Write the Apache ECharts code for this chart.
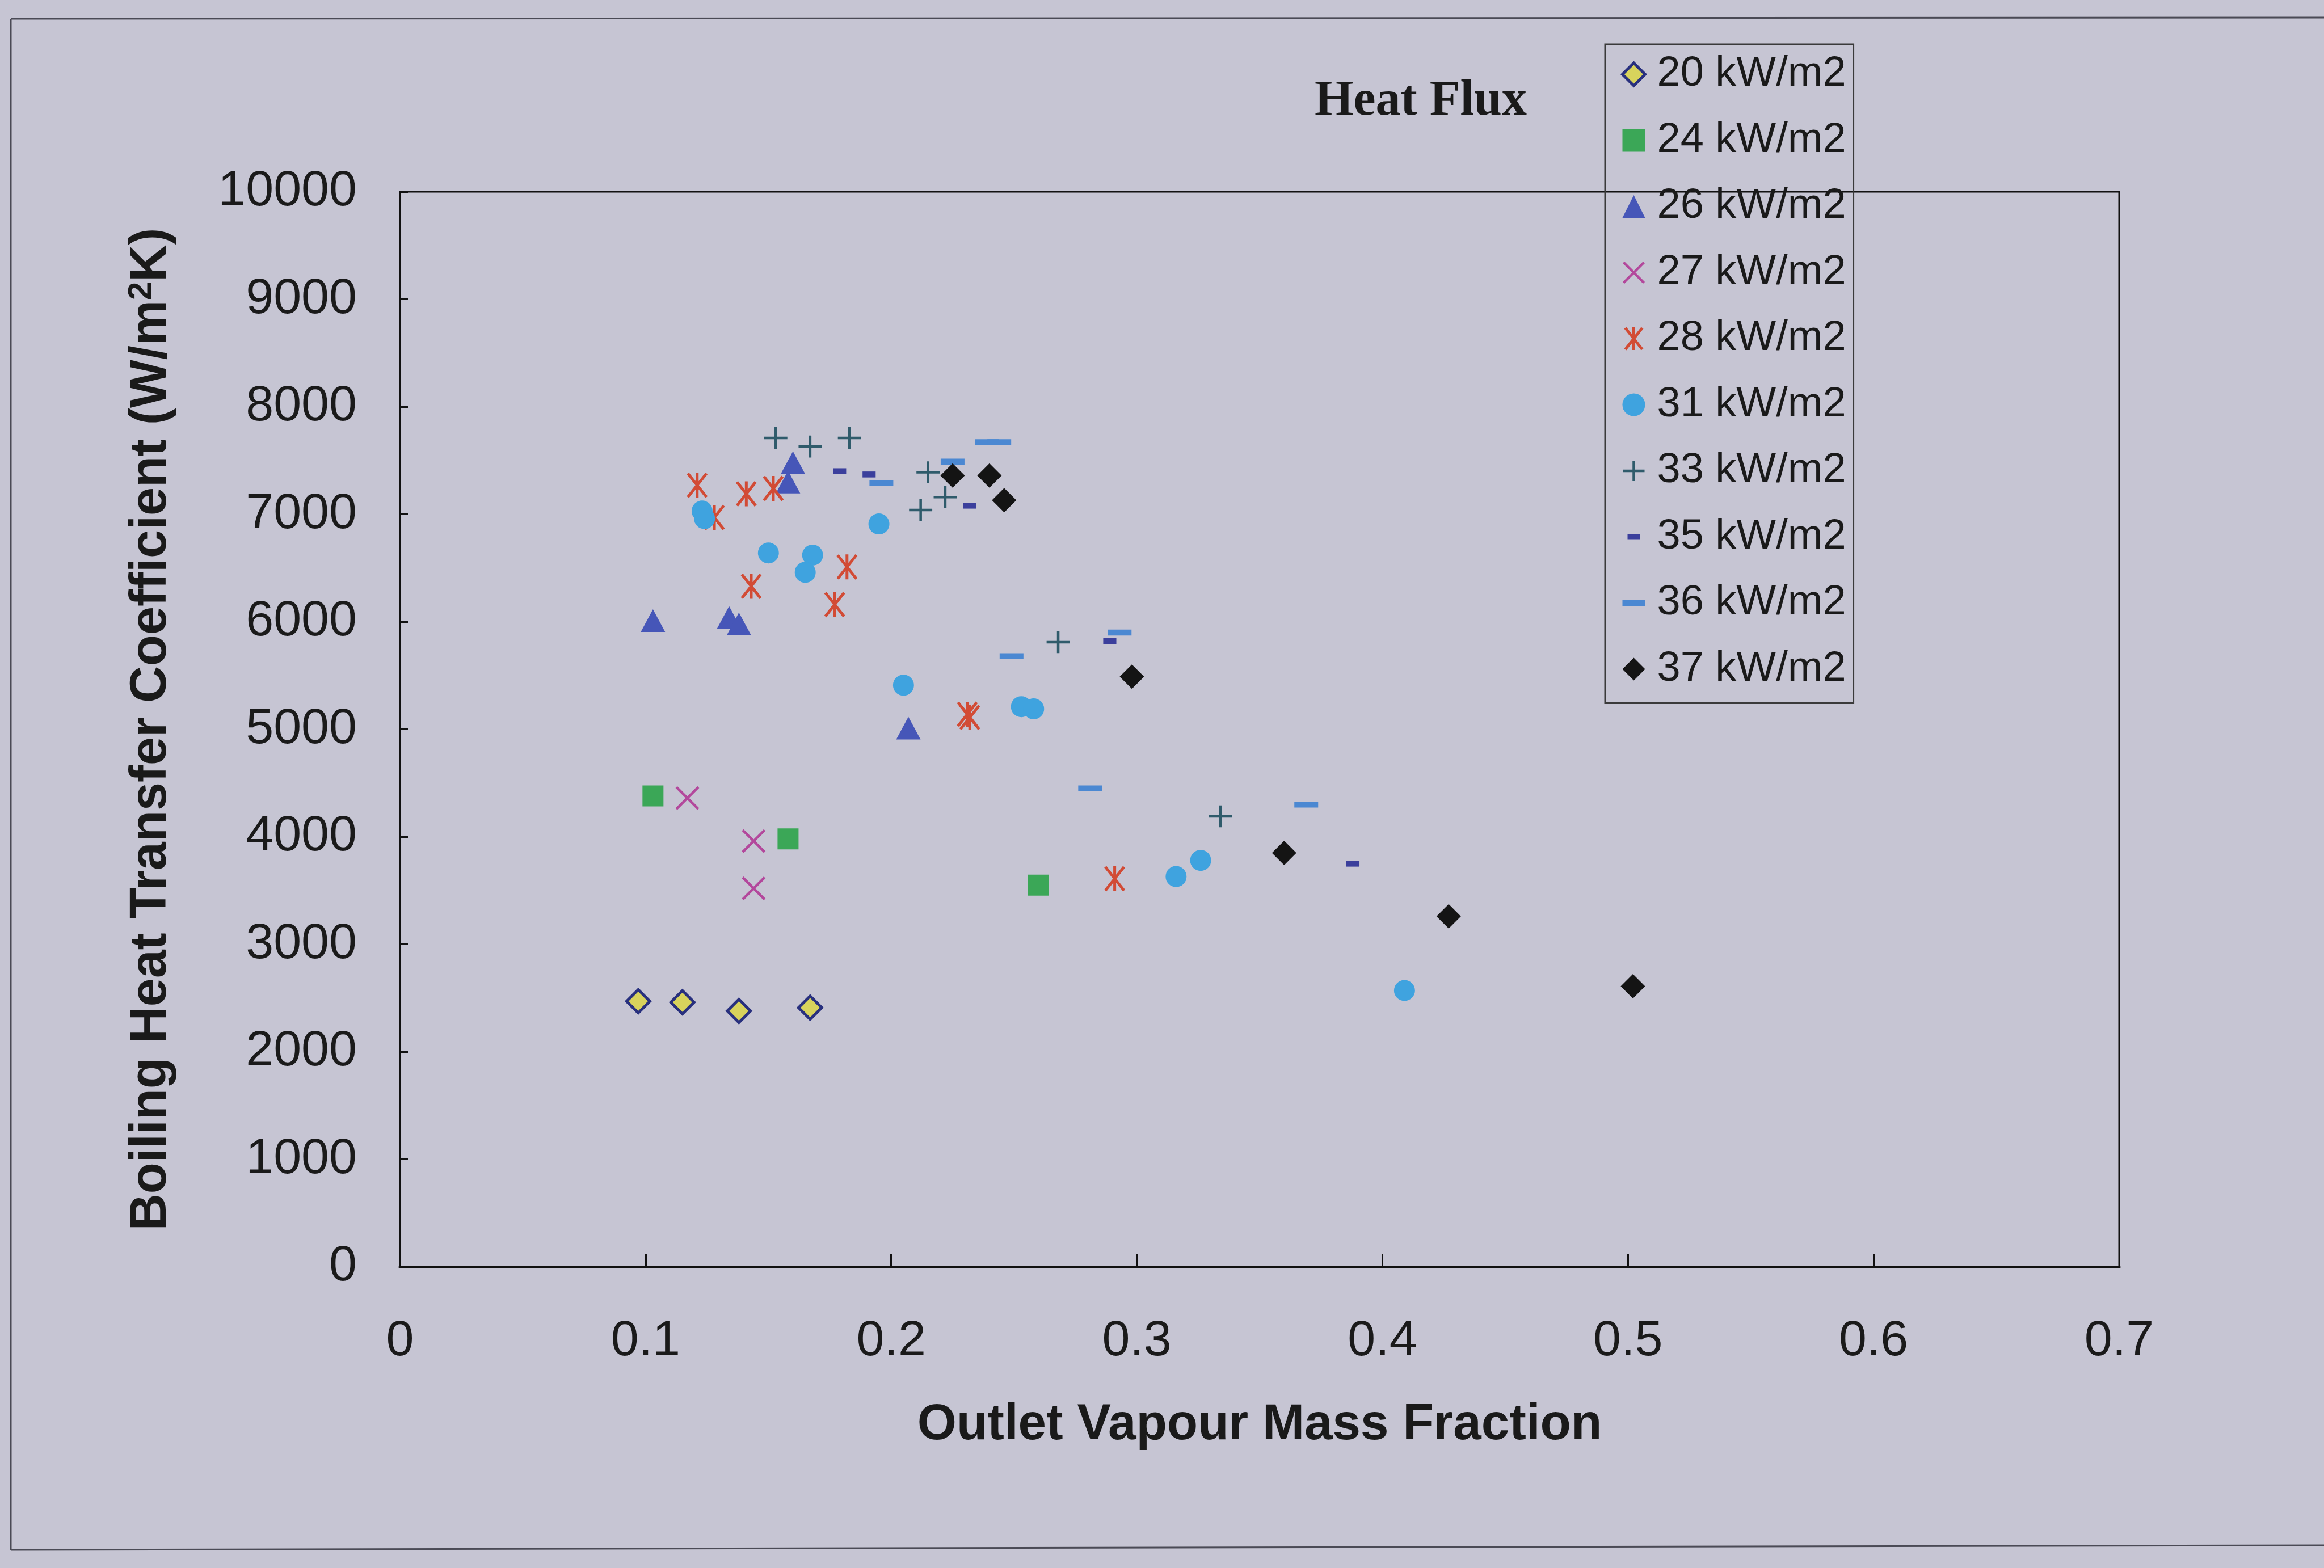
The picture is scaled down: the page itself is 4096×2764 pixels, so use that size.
<!DOCTYPE html>
<html>
<head>
<meta charset="utf-8">
<script src="https://cdn.jsdelivr.net/npm/echarts@6/dist/echarts.min.js"></script>
<style>
  html, body { margin: 0; padding: 0; background: #c6c5d3; }
  #chart { width: 4096px; height: 2764px; }
</style>
</head>
<body>
<div id="chart"></div>
<script>
// ---- Data ----
const seriesNames = ['20 kW/m2', '24 kW/m2', '26 kW/m2', '27 kW/m2', '28 kW/m2',
                     '31 kW/m2', '33 kW/m2', '35 kW/m2', '36 kW/m2', '37 kW/m2'];

const x20 = [0.097, 0.115, 0.138, 0.167];
const y20 = [2470, 2460, 2380, 2410];

const x24 = [0.103, 0.158, 0.260];
const y24 = [4380, 3980, 3550];

const x26 = [0.160, 0.158, 0.103, 0.134, 0.138, 0.207];
const y26 = [7480, 7300, 6010, 6040, 5980, 5010];

const x27 = [0.117, 0.144, 0.144];
const y27 = [4360, 3960, 3520];

const x28 = [0.121, 0.141, 0.152, 0.128, 0.182, 0.143, 0.177, 0.231, 0.232, 0.291];
const y28 = [7270, 7190, 7240, 6970, 6510, 6330, 6160, 5140, 5110, 3610];

const x31 = [0.123, 0.124, 0.195, 0.150, 0.168, 0.165, 0.205, 0.253, 0.258, 0.316, 0.326, 0.409];
const y31 = [7030, 6960, 6910, 6640, 6620, 6460, 5410, 5210, 5190, 3630, 3780, 2570];

const x33 = [0.153, 0.167, 0.183, 0.215, 0.222, 0.212, 0.268, 0.334];
const y33 = [7710, 7630, 7710, 7390, 7160, 7040, 5810, 4190];

const x35 = [0.179, 0.191, 0.232, 0.289, 0.388];
const y35 = [7400, 7370, 7080, 5820, 3750];

const x36 = [0.239, 0.244, 0.225, 0.196, 0.249, 0.293, 0.281, 0.369];
const y36 = [7670, 7670, 7490, 7290, 5680, 5900, 4450, 4300];

const x37 = [0.225, 0.240, 0.246, 0.298, 0.360, 0.427, 0.502];
const y37 = [7360, 7360, 7130, 5490, 3850, 3260, 2610];

const xTicks = [0, 0.1, 0.2, 0.3, 0.4, 0.5, 0.6, 0.7];
const yTicks = [0, 1000, 2000, 3000, 4000, 5000, 6000, 7000, 8000, 9000, 10000];

// ---- Presentation ----
const FONT = '"Liberation Sans", Arial, sans-serif';
const zip = (xs, ys) => xs.map((x, i) => [x, ys[i]]);
const box = d => 'path://M0,0M40,40' + d;   // symbols drawn in a 40x40 box

const styles = [
  { symbol: 'diamond', size: 41, item: { color: '#d8d35c', borderColor: '#28307e', borderWidth: 5 } },
  { symbol: 'rect', size: 37, item: { color: '#3ba757' } },
  { symbol: 'triangle', size: [43, 40], item: { color: '#4656b8' } },
  { symbol: box('M2,2L38,38M38,2L2,38'), size: 43, item: { color: 'transparent', borderColor: '#b3489c', borderWidth: 4.5 } },
  { symbol: box('M5,1L35,39M35,1L5,39M20,0L20,40'), size: 44, item: { color: 'transparent', borderColor: '#d24b35', borderWidth: 5 } },
  { symbol: 'circle', size: 37, item: { color: '#3fa3df' } },
  { symbol: box('M1,20L39,20M20,2L20,38'), size: 43, item: { color: 'transparent', borderColor: '#2f5b6b', borderWidth: 4.5 } },
  { symbol: box('M9,15h22v10h-22z'), size: 42, item: { color: '#3b3f9c' } },
  { symbol: box('M0,15h40v10h-40z'), size: 42, item: { color: '#4b88d2' } },
  { symbol: 'diamond', size: 43, item: { color: '#141414' } }
];

const dataSets = [zip(x20, y20), zip(x24, y24), zip(x26, y26), zip(x27, y27), zip(x28, y28),
                  zip(x31, y31), zip(x33, y33), zip(x35, y35), zip(x36, y36), zip(x37, y37)];

const series = seriesNames.map((name, i) => ({
  name: name,
  type: 'scatter',
  data: dataSets[i],
  symbol: styles[i].symbol,
  symbolSize: styles[i].size,
  itemStyle: Object.assign({ opacity: 1 }, styles[i].item),
  emphasis: { disabled: true },
  animation: false
}));

const chart = echarts.init(document.getElementById('chart'), null, { renderer: 'canvas' });

chart.setOption({
  backgroundColor: '#c6c5d3',
  animation: false,
  grid: {
    left: 705, right: 361, top: 338, bottom: 531,
    show: true, borderColor: '#111', borderWidth: 3, backgroundColor: 'transparent'
  },
  xAxis: {
    type: 'value', min: 0, max: 0.7, interval: 0.1,
    name: 'Outlet Vapour Mass Fraction',
    nameLocation: 'middle', nameGap: 235,
    nameTextStyle: { fontFamily: FONT, fontSize: 89, fontWeight: 'bold', color: '#1a1a1a' },
    axisLine: { show: true, lineStyle: { color: '#111', width: 5 } },
    axisTick: { show: true, inside: true, length: 22, lineStyle: { color: '#111', width: 3 } },
    axisLabel: {
      margin: 88, fontFamily: FONT, fontSize: 88, color: '#1a1a1a',
      showMinLabel: true, showMaxLabel: true,
      formatter: v => {
        const m = xTicks.find(t => Math.abs(t - v) < 1e-9);
        return m === undefined ? '' : String(m);
      }
    },
    splitLine: { show: false }
  },
  yAxis: {
    type: 'value', min: 0, max: 10000, interval: 1000,
    name: 'Boiling Heat Transfer Coefficient (W/m{sup|2}K)',
    nameLocation: 'middle', nameGap: 392, nameRotate: 90,
    nameTextStyle: {
      fontFamily: FONT, fontSize: 90, fontWeight: 'bold', color: '#1a1a1a',
      rich: { sup: { fontFamily: FONT, fontSize: 58, fontWeight: 'bold', color: '#1a1a1a', verticalAlign: 'top', padding: [0, 0, 34, 0] } }
    },
    axisLine: { show: true, lineStyle: { color: '#111', width: 3 } },
    axisTick: { show: true, inside: true, length: 14, lineStyle: { color: '#111', width: 3 } },
    axisLabel: {
      margin: 76, fontFamily: FONT, fontSize: 88, color: '#1a1a1a',
      showMinLabel: true, showMaxLabel: true,
      formatter: v => {
        const m = yTicks.find(t => Math.abs(t - v) < 1e-6);
        return m === undefined ? '' : String(m);
      }
    },
    splitLine: { show: false }
  },
  legend: {
    orient: 'vertical',
    left: 2829, top: 78,
    padding: [16, 13, 23, 28],
    itemWidth: 40, itemHeight: 40, itemGap: 42.5,
    borderColor: '#3a3a3a', borderWidth: 3,
    backgroundColor: 'transparent',
    selectedMode: false,
    itemStyle: { borderWidth: 'inherit' },
    textStyle: { fontFamily: FONT, fontSize: 74, lineHeight: 74, color: '#1a1a1a', padding: [0, 0, 0, 16] },
    data: seriesNames
  },
  graphic: [
    { type: 'text', left: 2513 - 196, top: 175 - 40, z: 10,
      style: { text: 'Heat Flux', fontFamily: '"Liberation Serif", "Times New Roman", serif', fontWeight: 'bold', fontSize: 88, fill: '#1a1a1a' } },
    { type: 'line', shape: { x1: 19, y1: 33, x2: 4096, y2: 31 }, style: { stroke: '#4a4a55', lineWidth: 3 } },
    { type: 'line', shape: { x1: 19, y1: 33, x2: 19, y2: 2732 }, style: { stroke: '#4a4a55', lineWidth: 3 } },
    { type: 'line', shape: { x1: 19, y1: 2732, x2: 4096, y2: 2724 }, style: { stroke: '#4a4a55', lineWidth: 3 } }
  ],
  series: series
});
</script>
</body>
</html>
